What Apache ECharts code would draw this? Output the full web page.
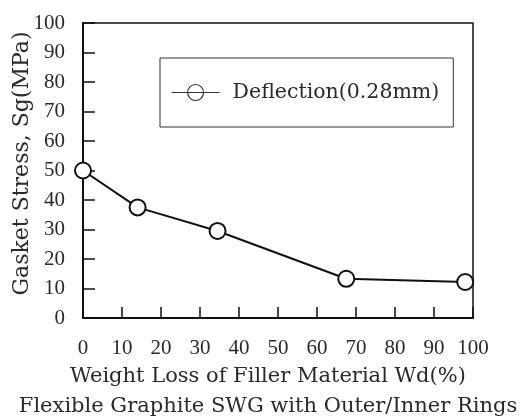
<!DOCTYPE html>
<html>
<head>
<meta charset="utf-8">
<script src="https://cdn.jsdelivr.net/npm/echarts@6/dist/echarts.min.js"></script>
<style>
  html, body { margin: 0; padding: 0; background: #fff; }
  #chart { width: 522px; height: 419px; }
</style>
</head>
<body>
<div id="chart"></div>
<script>
// Weight loss of filler material (%) and measured gasket stress (MPa)
var weightLoss = [0, 14, 34.5, 67.5, 98];
var gasketStress = [50, 37.5, 29.5, 13.3, 12.2];
var seriesName = 'Deflection(0.28mm)';
var xTitle = 'Weight Loss of Filler Material Wd(%)\nFlexible Graphite SWG with Outer/Inner Rings';
var yTitle = 'Gasket Stress, Sg(MPa)';

var points = weightLoss.map(function (x, i) { return [x, gasketStress[i]]; });

var ink = '#111';
var textInk = '#2a2a2a';
var tickFont = 'Liberation Serif';
var titleFont = 'DejaVu Serif';

// legend key: a short line with an open circle threaded on it
var legendKey = 'path://M0 8 H48 M32 8 A8 8 0 1 1 16 8 A8 8 0 1 1 32 8 Z';

var chart = echarts.init(document.getElementById('chart'));
chart.setOption({
  animation: false,
  backgroundColor: '#fff',
  grid: {
    left: 83, top: 23, right: 49, bottom: 101,
    containLabel: false, outerBoundsMode: 'none',
    show: true, borderColor: ink, borderWidth: 1.5
  },
  legend: {
    left: 160, top: 58,
    padding: [24, 14, 24, 11],
    borderColor: '#333', borderWidth: 1,
    itemWidth: 48, itemHeight: 16,
    textStyle: { fontFamily: titleFont, fontSize: 20.5, color: textInk, padding: [0, 0, 0, 8] },
    data: [{
      name: seriesName,
      icon: legendKey,
      itemStyle: { color: 'transparent', borderColor: '#333', borderWidth: 1.2 }
    }]
  },
  xAxis: {
    type: 'value', min: 0, max: 100, interval: 10,
    name: xTitle, nameLocation: 'middle', nameGap: 44, nameMoveOverlap: false,
    nameTextStyle: {
      fontFamily: titleFont, fontSize: 21, color: textInk, lineHeight: 30,
      padding: [0, 20, 0, 0]
    },
    axisLine: { lineStyle: { color: ink, width: 2 } },
    axisTick: { inside: true, length: 11, lineStyle: { color: ink, width: 1.5 } },
    axisLabel: { fontFamily: tickFont, fontSize: 21, color: textInk, margin: 20 },
    splitLine: { show: false }
  },
  yAxis: {
    type: 'value', min: 0, max: 100, interval: 10,
    name: yTitle, nameLocation: 'middle', nameGap: 50, nameMoveOverlap: false,
    nameTextStyle: { fontFamily: titleFont, fontSize: 22, color: textInk, padding: [0, 0, 0, 14] },
    axisLine: { lineStyle: { color: ink, width: 2 } },
    axisTick: { inside: true, length: 12, lineStyle: { color: ink, width: 1.5 } },
    axisLabel: { fontFamily: tickFont, fontSize: 21, color: textInk, margin: 18 },
    splitLine: { show: false }
  },
  series: [{
    name: seriesName,
    type: 'line',
    data: points,
    symbol: 'emptyCircle',
    symbolSize: 16,
    lineStyle: { color: ink, width: 2 },
    itemStyle: { color: ink, borderColor: ink, borderWidth: 1.5 }
  }]
});
</script>
</body>
</html>
